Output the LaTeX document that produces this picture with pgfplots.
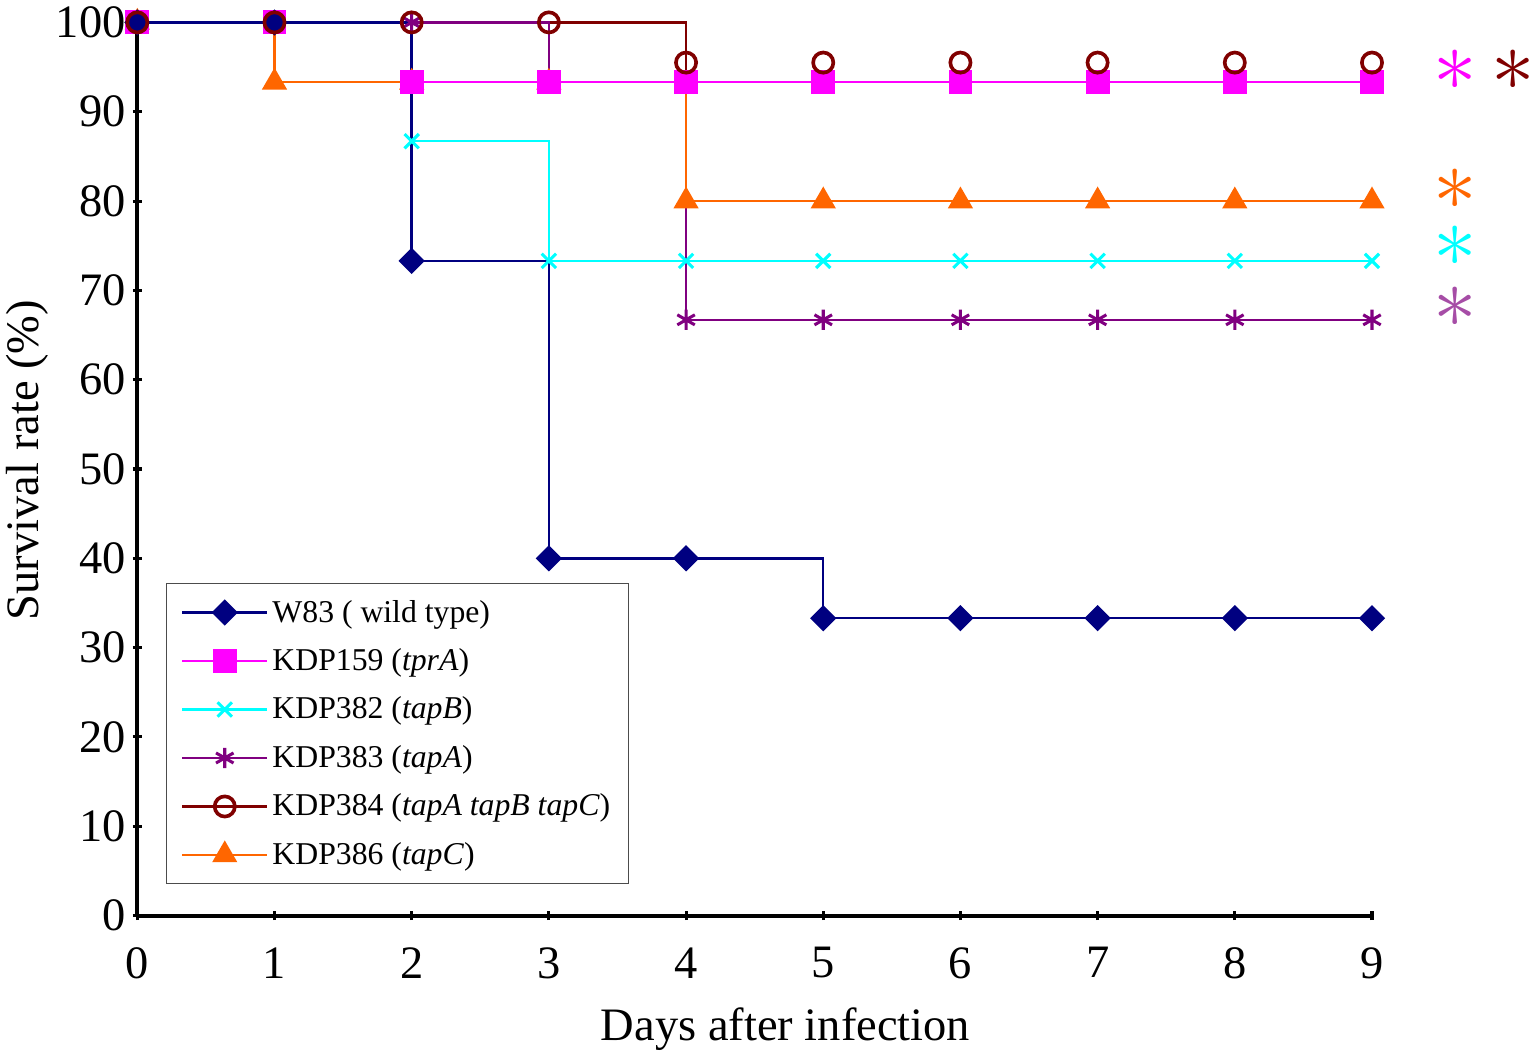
\documentclass[border=0pt]{standalone}
\usepackage{fontspec}
\setmainfont{Liberation Serif}
\usepackage{graphicx}
\usepackage{pgfplots}
\pgfplotsset{compat=1.18}

\definecolor{cW}{RGB}{0,0,128}
\definecolor{cA}{RGB}{255,0,255}
\definecolor{cB}{RGB}{0,255,255}
\definecolor{cC}{RGB}{128,0,128}
\definecolor{cD}{RGB}{128,0,0}
\definecolor{cE}{RGB}{255,102,0}
\definecolor{cStar}{RGB}{166,77,166}

\begin{document}
\begin{tikzpicture}
\begin{axis}[
    scale only axis,
    width=611pt, height=442pt,
    xmin=0, xmax=9, ymin=0, ymax=100,
    axis lines=left,
    axis line style={-, line width=2pt},
    clip=false,
    xtick={0,...,9}, ytick={0,10,...,100},
    tick style={line width=1.5pt, black},
    major tick length=4.5pt,
    tick pos=left,
    /pgf/number format/assume math mode=true,
    tick label style={font=\fontsize{23}{28}\selectfont},
    xticklabel style={yshift=-10pt},
    xlabel={Days after infection},
    ylabel={Survival rate (\%)},
    label style={font=\fontsize{23}{28}\selectfont},
    xlabel style={at={(axis description cs:0.525,0)}, anchor=center, yshift=-56pt},
    ylabel style={at={(axis description cs:-0.0887,0.51)}, anchor=center},
    legend cell align=left,
    legend style={at={(axis description cs:0.0236,0.372)}, anchor=north west,
        font=\fontsize{15.7}{20}\selectfont, draw=black!70, line width=0.5pt,
        row sep=7.6pt, inner xsep=7pt, inner ysep=6pt,
        /tikz/every even column/.append style={column sep=4pt}},
    legend image code/.code={\draw[mark repeat=2,mark phase=2,#1]
        plot coordinates {(0pt,0pt)(21pt,0pt)(42pt,0pt)};},
    every axis plot/.append style={line width=1.2pt},
]
% KDP384 line
\addplot[const plot, cD, forget plot] coordinates {
 (0,100) (1,100) (2,100) (3,100) (4,93.3) (5,93.3) (6,93.3) (7,93.3) (8,93.3) (9,93.3)};
% KDP383
\addplot[const plot, cC, mark=asterisk, mark size=5pt, mark options={line width=1.5pt}, forget plot] coordinates {
 (0,100) (1,100) (2,100) (3,93.3) (4,66.7) (5,66.7) (6,66.7) (7,66.7) (8,66.7) (9,66.7)};
% KDP386
\addplot[const plot, cE, mark=triangle*, mark size=6pt, forget plot] coordinates {
 (0,100) (1,93.3) (2,93.3) (3,93.3) (4,80) (5,80) (6,80) (7,80) (8,80) (9,80)};
% KDP382
\addplot[const plot, cB, mark=x, mark size=5pt, mark options={line width=1.5pt}, forget plot] coordinates {
 (0,100) (1,100) (2,86.7) (3,73.3) (4,73.3) (5,73.3) (6,73.3) (7,73.3) (8,73.3) (9,73.3)};
% KDP159
\addplot[const plot, cA, mark=square*, mark size=5.3pt, forget plot] coordinates {
 (0,100) (1,100) (2,93.3) (3,93.3) (4,93.3) (5,93.3) (6,93.3) (7,93.3) (8,93.3) (9,93.3)};
% W83
\addplot[const plot, cW, mark=square*, mark size=4pt, mark options={rotate=45}, forget plot] coordinates {
 (0,100) (1,100) (2,73.3) (3,40) (4,40) (5,33.3) (6,33.3) (7,33.3) (8,33.3) (9,33.3)};
% KDP384 marks
\addplot[only marks, cD, mark=o, mark size=5pt, mark options={line width=1.8pt}, forget plot] coordinates {
 (0,100) (1,100) (2,100) (3,100) (4,95.5) (5,95.5) (6,95.5) (7,95.5) (8,95.5) (9,95.5)};

\addlegendimage{cW, line width=1.2pt, mark=square*, mark size=4pt, mark options={rotate=45}}
\addlegendentry{W83 ( wild type)}
\addlegendimage{cA, line width=1.2pt, mark=square*, mark size=5.3pt}
\addlegendentry{KDP159 (\textit{tprA})}
\addlegendimage{cB, line width=1.2pt, mark=x, mark size=5pt, mark options={line width=1.5pt}}
\addlegendentry{KDP382 (\textit{tapB})}
\addlegendimage{cC, line width=1.2pt, mark=asterisk, mark size=5pt, mark options={line width=1.5pt}}
\addlegendentry{KDP383 (\textit{tapA})}
\addlegendimage{cD, line width=1.2pt, mark=o, mark size=5pt, mark options={line width=1.8pt}}
\addlegendentry{KDP384 (\textit{tapA tapB tapC})}
\addlegendimage{cE, line width=1.2pt, mark=triangle*, mark size=6pt}
\addlegendentry{KDP386 (\textit{tapC})}

\node[cA, inner sep=0pt] at (axis cs:9.61,94.6) {\scalebox{4.3}{$\ast$}};
\node[cD, inner sep=0pt] at (axis cs:10.03,94.6) {\scalebox{4.3}{$\ast$}};
\node[cE, inner sep=0pt] at (axis cs:9.61,81.3) {\scalebox{4.3}{$\ast$}};
\node[cB, inner sep=0pt] at (axis cs:9.61,74.9) {\scalebox{4.3}{$\ast$}};
\node[cStar, inner sep=0pt] at (axis cs:9.61,68.1) {\scalebox{4.3}{$\ast$}};
\end{axis}
\end{tikzpicture}
\end{document}
